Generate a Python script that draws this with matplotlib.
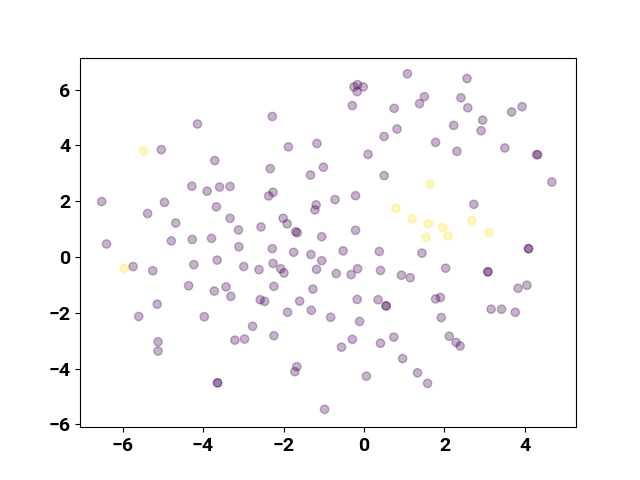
import matplotlib
matplotlib.use("Agg")
import matplotlib.pyplot as plt
import numpy as np

plt.rcParams['font.family'] = ['Roboto', 'DejaVu Sans']
plt.rcParams['font.weight'] = 'bold'
plt.rcParams['font.size'] = 14

# class 0 (purple) points
x0 = [-4.14, -5.04, -3.71, -4.28, -3.90, -3.59, -3.33, -6.52, -4.96, -5.38,
      -3.67, -3.33, -4.68, -3.12, -6.40, -4.79, -4.27, -3.79, -3.11, -5.74,
      -5.25, -4.23, -3.65, -2.99, -4.36, -3.72, -3.43, -3.31, -5.14, -5.60,
      -3.97, -2.77, -5.12, -5.12, -3.21, -2.97, -3.64, -3.64, 1.08, -0.25,
      -0.16, -0.02, -0.17, -0.29, 0.75, -2.28, 0.82, 0.50, -1.88, -1.17,
      0.10, -2.33, -1.33, -1.01, 0.50, -2.26, -2.37, -1.19, -1.22, -0.72,
      -0.21, -2.01, -1.91, -2.56, -1.70, -1.66, -1.05, -0.21, 2.56, 1.50,
      1.38, 2.41, 2.58, 3.93, 3.67, 2.95, 2.91, 2.23, 1.78, 2.31,
      3.50, 4.29, 4.32, 4.67, 2.73, 4.09, 4.09, 1.44, 2.03, 3.08,
      3.08, 1.15, 3.83, 4.05, 1.78, 1.90, 3.16, 3.42, 3.76, 1.92,
      2.12, 2.29, 2.39, 1.33, 1.58, -2.28, -1.75, -1.32, -1.05, -0.52,
      0.38, -2.61, -2.26, -2.07, -1.99, -1.18, -0.69, -0.32, -0.16, 0.41,
      0.93, -2.24, -1.27, -2.58, -2.47, -1.60, -0.17, 0.35, 0.55, 0.55,
      -1.90, -1.31, -0.83, -0.11, -2.24, 0.74, -0.29, -0.56, 0.41, 0.96,
      -1.67, -1.72, 0.06, -0.98]
y0 = [4.77, 3.85, 3.46, 2.54, 2.36, 2.51, 2.53, 1.99, 1.96, 1.56,
      1.80, 1.39, 1.22, 0.97, 0.47, 0.58, 0.63, 0.67, 0.37, -0.34,
      -0.49, -0.27, -0.11, -0.34, -1.03, -1.22, -1.07, -1.41, -1.69, -2.13,
      -2.14, -2.48, -3.04, -3.37, -2.98, -2.94, -4.51, -4.51, 6.57, 6.10,
      6.18, 6.10, 5.93, 5.43, 5.33, 5.04, 4.59, 4.32, 3.95, 4.07,
      3.68, 3.17, 2.94, 3.22, 2.92, 2.32, 2.19, 1.87, 1.69, 2.06,
      2.20, 1.39, 1.19, 1.08, 0.91, 0.87, 0.73, 0.96, 6.40, 5.75,
      5.50, 5.71, 5.35, 5.39, 5.20, 4.91, 4.53, 4.72, 4.11, 3.79,
      3.91, 3.67, 3.67, 2.69, 1.89, 0.30, 0.30, 0.14, -0.40, -0.53,
      -0.53, -0.74, -1.12, -1.01, -1.50, -1.45, -1.87, -1.87, -1.98, -2.17,
      -2.84, -3.06, -3.19, -4.15, -4.53, 0.30, 0.17, 0.09, -0.13, 0.22,
      0.20, -0.45, -0.23, -0.42, -0.57, -0.44, -0.59, -0.63, -0.42, -0.48,
      -0.65, -1.05, -1.15, -1.53, -1.59, -1.58, -1.52, -1.53, -1.75, -1.75,
      -1.98, -1.91, -2.16, -2.31, -2.82, -2.87, -2.95, -3.23, -3.09, -3.64,
      -3.93, -4.11, -4.27, -5.46]

# class 1 (yellow) points
x1 = [-5.48, -5.96, 0.79, 1.20, 1.64, 1.60, 1.96, 2.68, 3.11, 1.54, 2.09]
y1 = [3.80, -0.41, 1.74, 1.37, 2.61, 1.19, 1.06, 1.30, 0.87, 0.71, 0.76]

xs = np.array(x0 + x1)
ys = np.array(y0 + y1)
labels = np.array([0] * len(x0) + [1] * len(x1))

fig, ax = plt.subplots(figsize=(6.4, 4.8), dpi=100)
ax.scatter(xs, ys, c=labels, cmap='viridis', alpha=0.3)
ax.set_xlim(-7.06, 5.27)
ax.set_ylim(-6.1, 7.15)
ax.set_xticks([-6, -4, -2, 0, 2, 4])
ax.set_yticks([-6, -4, -2, 0, 2, 4, 6])
fig.savefig("out.png", dpi=100)
